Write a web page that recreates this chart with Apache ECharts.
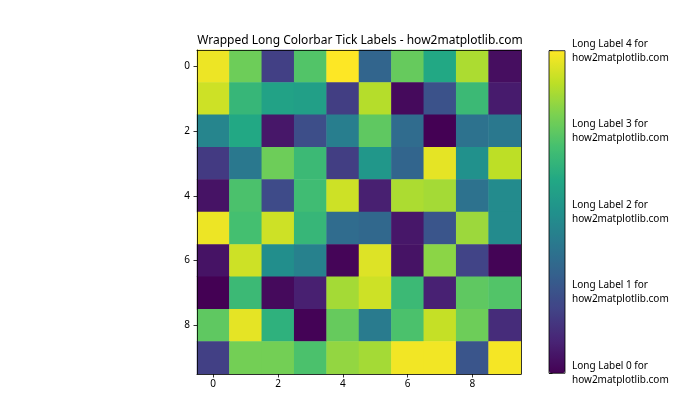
<!DOCTYPE html>
<html>
<head>
<meta charset="utf-8">
<script src="https://cdn.jsdelivr.net/npm/echarts@6/dist/echarts.min.js"></script>
<style>html,body{margin:0;padding:0;background:#fff}#c{width:700px;height:420px}</style>
</head>
<body>
<div id="c"></div>
<script>
const xCats = ['0','1','2','3','4','5','6','7','8','9'];
const yCats = ['0','1','2','3','4','5','6','7','8','9'];
const row0 = [3.9, 3.1, 0.75, 2.9, 4.0, 1.3, 3.05, 2.4, 3.5, 0.15];
const row1 = [3.7, 2.65, 2.3, 2.25, 0.72, 3.55, 0.1, 1.0, 2.7, 0.3];
const row2 = [1.8, 2.4, 0.25, 0.95, 1.7, 3.0, 1.4, 0.0, 1.5, 1.6];
const row3 = [0.68, 1.6, 3.1, 2.7, 0.72, 2.1, 1.3, 3.85, 2.0, 3.6];
const row4 = [0.2, 2.85, 0.9, 2.75, 3.7, 0.35, 3.5, 3.45, 1.5, 1.9];
const row5 = [3.9, 2.8, 3.7, 2.65, 1.4, 1.35, 0.25, 1.05, 3.4, 1.9];
const row6 = [0.2, 3.7, 1.95, 1.75, 0.05, 3.8, 0.2, 3.3, 0.8, 0.03];
const row7 = [0.0, 2.7, 0.1, 0.35, 3.45, 3.7, 2.7, 0.37, 3.0, 2.9];
const row8 = [3.0, 3.85, 2.55, 0.02, 3.05, 1.65, 2.85, 3.65, 3.1, 0.5];
const row9 = [0.75, 3.15, 3.15, 2.85, 3.35, 3.45, 3.93, 3.93, 1.05, 3.95];
const rows = [row0, row1, row2, row3, row4, row5, row6, row7, row8, row9];
const cbTicks = [0, 1, 2, 3, 4];
const titleText = 'Wrapped Long Colorbar Tick Labels - how2matplotlib.com';

const viridis = ['#440154','#482475','#414487','#355f8d','#2a788e','#21918c','#22a884','#44bf70','#7ad151','#bddf26','#fde725'];

const data = [];
rows.forEach((r, yi) => r.forEach((v, xi) => data.push([xi, yi, v])));

const font = 'Noto Sans';
const chart = echarts.init(document.getElementById('c'), null, {renderer: 'canvas'});
chart.setOption({
  animation: false,
  title: {
    text: titleText, left: 355, top: 30, textAlign: 'center',
    textStyle: {fontFamily: font, fontSize: 12, fontWeight: 'normal', color: '#000'}
  },
  grid: [
    {left: 197, top: 50, width: 324, height: 324},
    {left: 549, top: 50.7, width: 16, height: 322.6, show: true, borderColor: '#000', borderWidth: 0.8, backgroundColor: 'transparent', z: 5}
  ],
  xAxis: [
    {type: 'category', data: xCats, gridIndex: 0, position: 'bottom',
     axisLine: {show: true, lineStyle: {color: '#000', width: 0.8}, onZero: false},
     axisTick: {show: true, interval: 1, alignWithLabel: true, length: 3.5, lineStyle: {color: '#000', width: 0.8}},
     axisLabel: {interval: 1, fontFamily: font, fontSize: 10, color: '#000', margin: 5},
     splitLine: {show: false}, z: 5},
    {type: 'category', data: xCats, gridIndex: 0, position: 'top',
     axisLine: {show: true, lineStyle: {color: '#000', width: 0.8}, onZero: false},
     axisTick: {show: false}, axisLabel: {show: false}, z: 5},
    {type: 'value', gridIndex: 1, show: false, min: 0, max: 1}
  ],
  yAxis: [
    {type: 'category', data: yCats, gridIndex: 0, inverse: true, position: 'left',
     axisLine: {show: true, lineStyle: {color: '#000', width: 0.8}, onZero: false},
     axisTick: {show: true, interval: 1, alignWithLabel: true, length: 3.5, lineStyle: {color: '#000', width: 0.8}},
     axisLabel: {interval: 1, fontFamily: font, fontSize: 10, color: '#000', margin: 7},
     splitLine: {show: false}, z: 5},
    {type: 'category', data: yCats, gridIndex: 0, inverse: true, position: 'right',
     axisLine: {show: true, lineStyle: {color: '#000', width: 0.8}, onZero: false},
     axisTick: {show: false}, axisLabel: {show: false}, z: 5},
    {type: 'value', gridIndex: 1, position: 'right', min: cbTicks[0], max: cbTicks[cbTicks.length - 1], interval: 1,
     axisLine: {show: false},
     axisTick: {show: true, length: 3.5, lineStyle: {color: '#000', width: 0.8}},
     axisLabel: {fontFamily: font, fontSize: 10, color: '#000', margin: 7, lineHeight: 14, align: 'left',
       formatter: v => 'Long Label ' + v + ' for\nhow2matplotlib.com'},
     splitLine: {show: false}}
  ],
  visualMap: {
    type: 'continuous', min: cbTicks[0], max: cbTicks[cbTicks.length - 1], calculable: false,
    seriesIndex: 0, orient: 'vertical', left: 549, top: 50.7, itemWidth: 16, itemHeight: 322.6,
    padding: 0, text: ['', ''], textGap: 0, showLabel: false, hoverLink: false,
    inRange: {color: viridis}
  },
  series: [
    {type: 'heatmap', data: data, xAxisIndex: 0, yAxisIndex: 0, itemStyle: {borderWidth: 0}, emphasis: {disabled: true}},
    {type: 'line', data: [], xAxisIndex: 2, yAxisIndex: 2}
  ]
});
</script>
</body>
</html>
